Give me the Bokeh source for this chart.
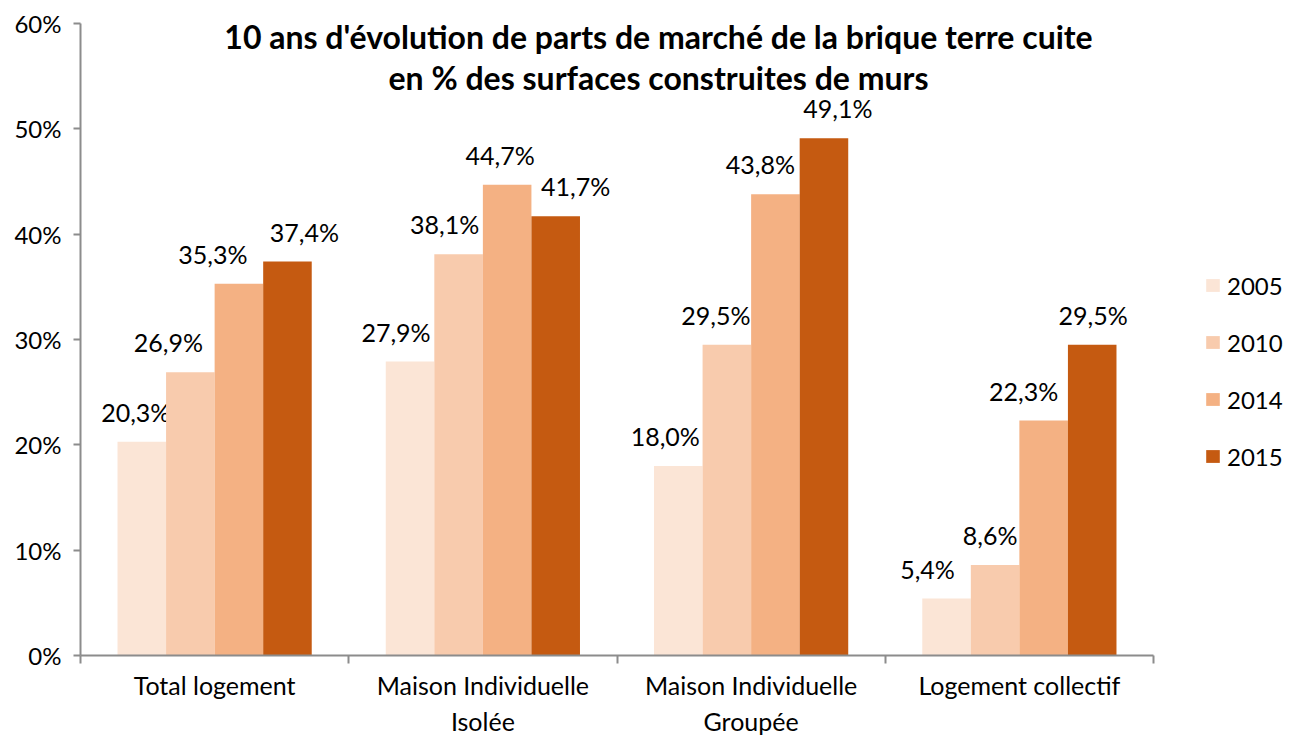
from bokeh.plotting import figure
from bokeh.models import ColumnDataSource, FixedTicker, Legend, LegendItem, Label, Range1d
from bokeh.core.properties import value
from bokeh.embed import file_html
from bokeh.resources import INLINE

# ---- data ----
categories = ["Total logement", "Maison Individuelle\nIsolée",
              "Maison Individuelle\nGroupée", "Logement collectif"]
years = ["2005", "2010", "2014", "2015"]
values_2005 = [20.3, 27.9, 18.0, 5.4]
values_2010 = [26.9, 38.1, 29.5, 8.6]
values_2014 = [35.3, 44.7, 43.8, 22.3]
values_2015 = [37.4, 41.7, 49.1, 29.5]
y_ticks = [0, 10, 20, 30, 40, 50, 60]
y_tick_labels = ["0%", "10%", "20%", "30%", "40%", "50%", "60%"]
title_line1 = "10 ans d'évolution de parts de marché de la brique terre cuite"
title_line2 = "en % des surfaces construites de murs"

# ---- styles / layout ----
series = [values_2005, values_2010, values_2014, values_2015]
colors = ["#FBE5D6", "#F8CBAD", "#F4B183", "#C55A11"]
label_dx = [[-6, -14, -13, -19], [-22, -14, -11, -5], [-26, -7, -15, -20], [17, 20, 14, 1]]
bar_w = 0.181
FONT = "Lato"
AX = "#8c8c8c"

W, H = 1297, 738
LEFT, RIGHT, TOP, BOTTOM = 80, 4, 23, 81
axis_px = 1073                      # pixel length of the category axis
n = len(categories)
frame_px = W - LEFT - RIGHT
x_end = -0.5 + n * frame_px / axis_px   # frame extends past the axis to host the legend

p = figure(width=W, height=H, output_backend="svg", toolbar_location=None,
           x_range=Range1d(-0.5, x_end), y_range=Range1d(0, 60),
           min_border_left=LEFT, min_border_right=RIGHT,
           min_border_top=TOP, min_border_bottom=BOTTOM)
p.outline_line_color = None
p.xgrid.visible = False
p.ygrid.visible = False
p.background_fill_color = "white"
p.border_fill_color = "white"

items = []
for i, (yr, vals, col) in enumerate(zip(years, series, colors)):
    off = (i - 1.5) * bar_w
    xs = [j + off for j in range(n)]
    src = ColumnDataSource(dict(
        x=xs, top=vals,
        lab=[f"{v:.1f}".replace(".", ",") + "%" for v in vals],
        dx=label_dx[i]))
    r = p.vbar(x="x", top="top", bottom=0, width=bar_w, source=src,
               fill_color=col, line_color=None)
    p.text(x="x", y="top", text="lab", source=src, x_offset="dx", y_offset=-30,
           text_align="center", text_baseline="alphabetic",
           text_font=value(FONT), text_font_size="25px", text_color="black")
    items.append(LegendItem(label=yr, renderers=[r]))

legend = Legend(items=items, location=(1124, 184), orientation="vertical",
                glyph_width=17, glyph_height=16, label_height=30, spacing=27,
                label_standoff=6, padding=0, margin=0,
                border_line_color=None, background_fill_alpha=0,
                label_text_font=FONT, label_text_font_size="24px",
                label_text_color="black")
p.add_layout(legend, "center")

# axes
xa = p.xaxis[0]
xa.bounds = (-0.5, n - 0.5)
xa.ticker = FixedTicker(ticks=list(range(n)),
                        minor_ticks=[k - 0.5 for k in range(n + 1)])
xa.major_label_overrides = {j: c for j, c in enumerate(categories)}
xa.major_tick_out = 0
xa.major_tick_in = 0
xa.minor_tick_out = 8
xa.minor_tick_in = 0
xa.minor_tick_line_color = AX
xa.minor_tick_line_width = 2
xa.axis_line_color = AX
xa.axis_line_width = 2
xa.major_label_standoff = 6
xa.major_label_text_font = FONT
xa.major_label_text_font_size = "25px"
xa.major_label_text_color = "black"

ya = p.yaxis[0]
ya.ticker = FixedTicker(ticks=y_ticks, minor_ticks=[])
ya.major_label_overrides = {t: l for t, l in zip(y_ticks, y_tick_labels)}
ya.major_tick_out = 7
ya.major_tick_in = 0
ya.major_tick_line_color = AX
ya.major_tick_line_width = 2
ya.minor_tick_line_color = None
ya.axis_line_color = AX
ya.axis_line_width = 2
ya.major_label_standoff = 12
ya.major_label_text_font = FONT
ya.major_label_text_font_size = "24px"
ya.major_label_text_color = "black"

# title inside plot area
for txt, yy in [(title_line1, 619), (title_line2, 578)]:
    p.add_layout(Label(x=578, y=yy, x_units="screen", y_units="screen", text=txt,
                       text_align="center", text_baseline="alphabetic",
                       text_font=FONT, text_font_style="bold",
                       text_font_size="32px", text_color="black"))

open("out.html", "w").write(file_html(p, INLINE))
